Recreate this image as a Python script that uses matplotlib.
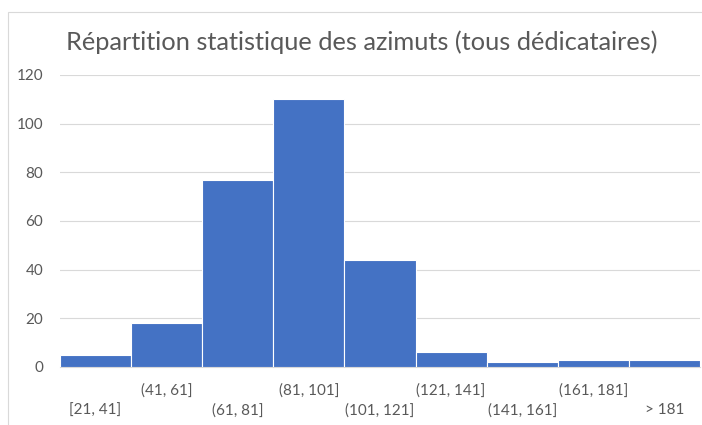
import matplotlib.pyplot as plt
from matplotlib.patches import Rectangle

# bins of the histogram and counts
bins = ["[21, 41]", "(41, 61]", "(61, 81]", "(81, 101]", "(101, 121]",
        "(121, 141]", "(141, 161]", "(161, 181]", "> 181"]
counts = [5, 18, 77, 110, 44, 6, 2, 3, 3]
yticks = [0, 20, 40, 60, 80, 100, 120]

plt.rcParams['font.family'] = ['Lato', 'DejaVu Sans']

fig = plt.figure(figsize=(7.02, 4.25), dpi=100)
ax = fig.add_axes([60 / 702, 1 - 367 / 425, 640 / 702, 292 / 425])

# light border of the chart area
fig.patches.append(Rectangle((8 / 702, -0.05), 1.0, 1 - 12 / 425 + 0.05,
                             transform=fig.transFigure, fill=False,
                             edgecolor='#d9d9d9', linewidth=0.8))

x = range(len(counts))
ax.bar(x, counts, width=1.0, color='#4472C4', edgecolor='white',
       linewidth=0.8, zorder=3)

ax.set_xlim(-0.5, len(counts) - 0.5)
ax.set_ylim(0, 120)
ax.set_yticks(yticks)
ax.set_yticklabels([str(v) for v in yticks], fontsize=11, color='#595959')
ax.grid(axis='y', color='#d9d9d9', linewidth=0.8, zorder=0)
ax.tick_params(axis='y', length=0, pad=12)

# category labels staggered on two rows, like Excel does
ax.set_xticks([])
for i, lab in enumerate(bins):
    yoff = -0.125 if i % 2 == 0 else -0.055
    ax.text(i, yoff, lab, transform=ax.get_xaxis_transform(), ha='center',
            va='top', fontsize=11, color='#595959')

for s in ['top', 'right', 'left']:
    ax.spines[s].set_visible(False)
ax.spines['bottom'].set_color('#d9d9d9')

fig.text(362 / 702, 1 - 42 / 425, "Répartition statistique des azimuts (tous dédicataires)",
         ha='center', va='center', fontsize=18.3, color='#595959')

fig.savefig('out.png', dpi=100)
